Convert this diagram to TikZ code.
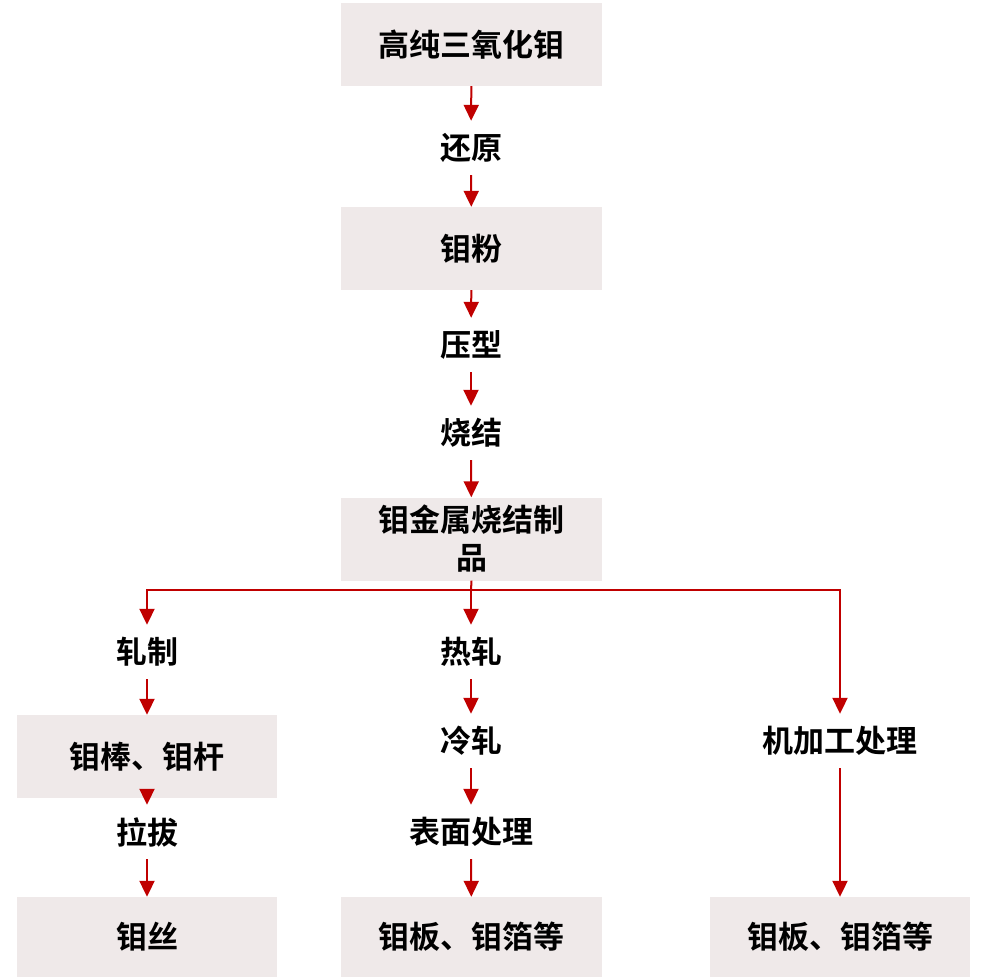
\documentclass[tikz,border=0pt]{standalone}
\usepackage{fontspec}
\newfontfamily\cjk{Noto Sans CJK SC}[BoldFont={Noto Sans CJK SC Bold}]
\usetikzlibrary{arrows.meta}
\definecolor{boxfill}{RGB}{239,233,233}
\definecolor{arrowred}{RGB}{192,0,0}
\begin{document}
\begin{tikzpicture}[x=1pt,y=-1pt,
  box/.style={fill=boxfill,draw=none,minimum width=261pt,minimum height=83pt,inner sep=0pt,align=center,font=\cjk\bfseries\fontsize{31}{38}\selectfont},
  lbl/.style={minimum height=54pt,inner sep=0pt,font=\cjk\bfseries\fontsize{31}{34}\selectfont},
  arr/.style={draw=arrowred,line width=2pt,-{Triangle[width=15pt,length=16pt]}},
  con/.style={draw=arrowred,line width=2pt}]
\useasboundingbox (0,0) rectangle (984,977);
% center column
\node[box] (b1) at (471.5,44.5) {高纯三氧化钼};
\node[lbl] (l1) at (471,148) {还原};
\node[box] (b2) at (471.5,248.5) {钼粉};
\node[lbl] (l2) at (471,345) {压型};
\node[lbl] (l3) at (471,433) {烧结};
\node[box,text width=200pt] (b3) at (471.5,539) {钼金属烧结制\\品};
\coordinate (j) at (471,590);
% left column
\node[lbl] (lA) at (147,652) {轧制};
\node[box,minimum width=260pt] (bA) at (147,756.5) {钼棒、钼杆};
\node[lbl] (lB) at (147,832) {拉拔};
\node[box,minimum width=260pt,minimum height=80pt] (bB) at (147,937) {钼丝};
% middle column
\node[lbl] (mA) at (471,652) {热轧};
\node[lbl] (mB) at (471,741) {冷轧};
\node[lbl] (mC) at (471,832) {表面处理};
\node[box,minimum height=80pt] (mD) at (471.5,937) {钼板、钼箔等};
% right column
\node[lbl] (rA) at (840,741) {机加工处理};
\node[box,minimum width=260pt,minimum height=80pt] (rB) at (840,937) {钼板、钼箔等};
% connectors
\draw[arr] (b1) -- (l1);
\draw[arr] (l1) -- (b2);
\draw[arr] (b2) -- (l2);
\draw[arr] (l2) -- (l3);
\draw[arr] (l3) -- (b3);
\draw[con] (b3.south) -- (j);
\draw[arr] (j) -| (lA.north);
\draw[arr] (j) -- (mA.north);
\draw[arr] (j) -| (rA.north);
\draw[arr] (lA) -- (bA);
\draw[arr] (bA) -- (lB);
\draw[arr] (lB) -- (bB);
\draw[arr] (mA) -- (mB);
\draw[arr] (mB) -- (mC);
\draw[arr] (mC) -- (mD);
\draw[arr] (rA) -- (rB);
\end{tikzpicture}
\end{document}
